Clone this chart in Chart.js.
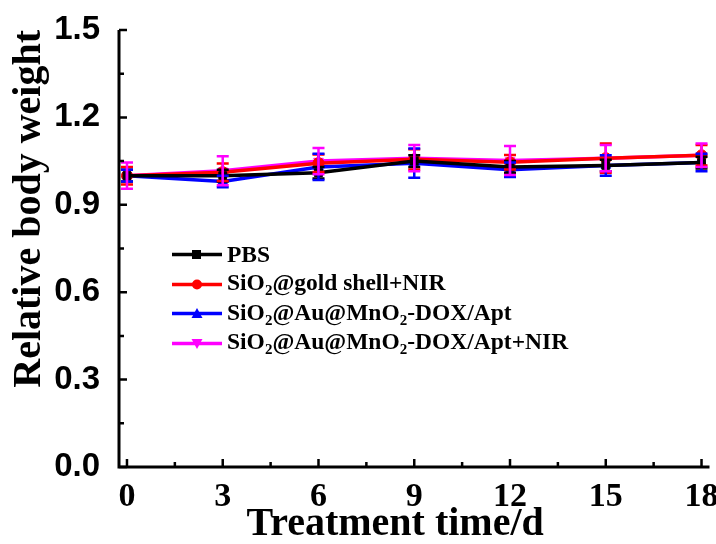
<!DOCTYPE html>
<html lang="en">
<head>
    <meta charset="UTF-8">
    <title>Relative body weight</title>
    <script src="https://cdn.jsdelivr.net/npm/chart.js"></script>
    <style>
        html, body { margin: 0; padding: 0; background: #fff; }
        #wrap { position: relative; width: 716px; height: 544px; }
        #legend { position: absolute; left: 172px; top: 240px; font: bold 23.5px "Liberation Serif", "Times New Roman", serif; color: #000; }
        #legend .row { height: 29.5px; display: flex; align-items: center; white-space: nowrap; }
        #legend svg { margin-right: 5px; }
        #legend sub { font-size: 15px; vertical-align: -5px; }
    </style>
</head>
<body>
<div id="wrap">
    <canvas id="weightChart" width="716" height="544"></canvas>
    <div id="legend"></div>
</div>
<script>
    const days = [0, 3, 6, 9, 12, 15, 18];
    const pbs = [1.00, 1.00, 1.01, 1.05, 1.03, 1.035, 1.045];
    const pbsErr = [0.02, 0.02, 0.02, 0.02, 0.02, 0.02, 0.02];
    const goldNir = [1.00, 1.012, 1.043, 1.056, 1.046, 1.06, 1.07];
    const goldNirErr = [0.03, 0.03, 0.03, 0.035, 0.025, 0.05, 0.035];
    const auApt = [1.00, 0.98, 1.03, 1.043, 1.02, 1.035, 1.045];
    const auAptErr = [0.02, 0.02, 0.045, 0.05, 0.025, 0.035, 0.03];
    const auAptNir = [1.00, 1.017, 1.05, 1.06, 1.052, 1.06, 1.07];
    const auAptNirErr = [0.045, 0.05, 0.045, 0.045, 0.05, 0.045, 0.04];

    const seriesNames = ['PBS', 'SiO<sub>2</sub>@gold shell+NIR', 'SiO<sub>2</sub>@Au@MnO<sub>2</sub>-DOX/Apt', 'SiO<sub>2</sub>@Au@MnO<sub>2</sub>-DOX/Apt+NIR'];
    const seriesLabels = ['PBS', 'SiO₂@gold shell+NIR', 'SiO₂@Au@MnO₂-DOX/Apt', 'SiO₂@Au@MnO₂-DOX/Apt+NIR'];
    const seriesColors = ['#000000', '#ff0000', '#0000ff', '#ff00ff'];
    const seriesMarkers = ['rect', 'circle', 'triangle', 'triangle'];
    const seriesValues = [pbs, goldNir, auApt, auAptNir];
    const seriesErrors = [pbsErr, goldNirErr, auAptErr, auAptNirErr];

    const xTicks = [0, 1.5, 3, 4.5, 6, 7.5, 9, 10.5, 12, 13.5, 15, 16.5, 18];
    const yTicks = [0, 0.15, 0.3, 0.45, 0.6, 0.75, 0.9, 1.05, 1.2, 1.35, 1.5];
    const xTitle = 'Treatment time/d';
    const yTitle = 'Relative body weight';

    const datasets = seriesValues.map((vals, i) => ({
        label: seriesLabels[i],
        data: vals.map((v, j) => ({ x: days[j], y: v })),
        errors: seriesErrors[i],
        borderColor: seriesColors[i],
        backgroundColor: seriesColors[i],
        borderWidth: 3.5,
        pointStyle: seriesMarkers[i],
        pointRotation: i === 3 ? 180 : 0,
        pointRadius: 5.5,
        pointBorderWidth: 1,
        tension: 0
    }));

    // error bars, drawn through the chart scales
    const errorBars = {
        id: 'errorBars',
        afterDatasetsDraw(chart) {
            const ctx = chart.ctx;
            const ys = chart.scales.y;
            chart.data.datasets.forEach((ds, i) => {
                const meta = chart.getDatasetMeta(i);
                ctx.save();
                ctx.strokeStyle = ds.borderColor;
                ctx.lineWidth = 2.5;
                meta.data.forEach((pt, j) => {
                    const v = ds.data[j].y, e = ds.errors[j];
                    const top = ys.getPixelForValue(v + e);
                    const bot = ys.getPixelForValue(v - e);
                    ctx.beginPath();
                    ctx.moveTo(pt.x, top); ctx.lineTo(pt.x, bot);
                    ctx.moveTo(pt.x - 6, top); ctx.lineTo(pt.x + 6, top);
                    ctx.moveTo(pt.x - 6, bot); ctx.lineTo(pt.x + 6, bot);
                    ctx.stroke();
                });
                ctx.restore();
            });
        }
    };

    // axis lines, inward ticks and the x title (sits a bit left of centre in the original)
    const axisFrame = {
        id: 'axisFrame',
        afterDraw(chart) {
            const ctx = chart.ctx;
            const xs = chart.scales.x, ys = chart.scales.y;
            const a = chart.chartArea;
            ctx.save();
            ctx.strokeStyle = '#000';
            ctx.lineWidth = 3;
            ctx.beginPath();
            ctx.moveTo(a.left, a.top); ctx.lineTo(a.left, a.bottom); ctx.lineTo(a.right, a.bottom);
            ctx.stroke();
            ctx.lineWidth = 2.5;
            ctx.beginPath();
            xs.ticks.forEach(t => {
                const px = xs.getPixelForValue(t.value);
                const len = t.value % 3 === 0 ? 8 : 5;
                ctx.moveTo(px, a.bottom); ctx.lineTo(px, a.bottom - len);
            });
            ys.ticks.forEach(t => {
                const py = ys.getPixelForValue(t.value);
                const major = Math.abs(t.value / 0.3 - Math.round(t.value / 0.3)) < 1e-6;
                ctx.moveTo(a.left, py); ctx.lineTo(a.left + (major ? 8 : 5), py);
            });
            ctx.stroke();
            ctx.fillStyle = '#000';
            ctx.font = 'bold 40px "Liberation Serif", serif';
            ctx.textAlign = 'center';
            ctx.textBaseline = 'middle';
            ctx.fillText(xTitle, xs.getPixelForValue(8.4), 525);
            ctx.restore();
        }
    };

    const ctx = document.getElementById('weightChart').getContext('2d');
    new Chart(ctx, {
        type: 'line',
        data: { datasets: datasets },
        options: {
            responsive: false,
            animation: false,
            layout: { padding: { top: 30, right: 1, left: 0, bottom: 0 } },
            plugins: {
                legend: { display: false },
                tooltip: { enabled: false }
            },
            scales: {
                x: {
                    type: 'linear',
                    min: -0.25,
                    max: 18.25,
                    afterBuildTicks: s => { s.ticks = xTicks.map(v => ({ value: v })); },
                    afterFit: s => { s.height = 77; s.paddingLeft = 0; s.paddingRight = 0; },
                    grid: { display: false, drawTicks: false },
                    border: { display: false },
                    ticks: {
                        autoSkip: false,
                        maxRotation: 0,
                        padding: 10,
                        color: '#000',
                        font: { family: '"Liberation Serif", serif', size: 34, weight: 'bold', lineHeight: 1.2 },
                        callback: v => (v % 3 === 0 ? v : '')
                    },
                    title: { display: false }
                },
                y: {
                    min: 0,
                    max: 1.5,
                    afterBuildTicks: s => { s.ticks = yTicks.map(v => ({ value: v })); },
                    afterFit: s => { s.width = 119; s.paddingTop = 0; s.paddingBottom = 0; },
                    grid: { display: false, drawTicks: false },
                    border: { display: false },
                    ticks: {
                        autoSkip: false,
                        padding: 19,
                        color: '#000',
                        font: { family: '"Liberation Sans", Arial, sans-serif', size: 33, weight: 'bold' },
                        callback: v => {
                            const r = v / 0.3;
                            return Math.abs(r - Math.round(r)) < 1e-6 ? v.toFixed(1) : '';
                        }
                    },
                    title: {
                        display: true,
                        text: yTitle,
                        align: 'end',
                        color: '#000',
                        padding: { top: 10, bottom: 0 },
                        font: { family: '"Liberation Serif", serif', size: 40, weight: 'bold', lineHeight: 1.0 }
                    }
                }
            }
        },
        plugins: [errorBars, axisFrame]
    });

    // legend with real subscripts
    const legend = document.getElementById('legend');
    seriesNames.forEach((name, i) => {
        const c = seriesColors[i];
        let mark;
        if (i === 0) mark = `<rect x="20" y="7" width="9" height="9" fill="${c}"/>`;
        else if (i === 1) mark = `<circle cx="25" cy="11.5" r="5" fill="${c}"/>`;
        else if (i === 2) mark = `<polygon points="25,6 30.5,16 19.5,16" fill="${c}"/>`;
        else mark = `<polygon points="25,17 30.5,7 19.5,7" fill="${c}"/>`;
        legend.innerHTML += `<div class="row"><svg width="50" height="23"><line x1="0" y1="11.5" x2="50" y2="11.5" stroke="${c}" stroke-width="3.5"/>${mark}</svg><span>${name}</span></div>`;
    });
</script>
</body>
</html>
